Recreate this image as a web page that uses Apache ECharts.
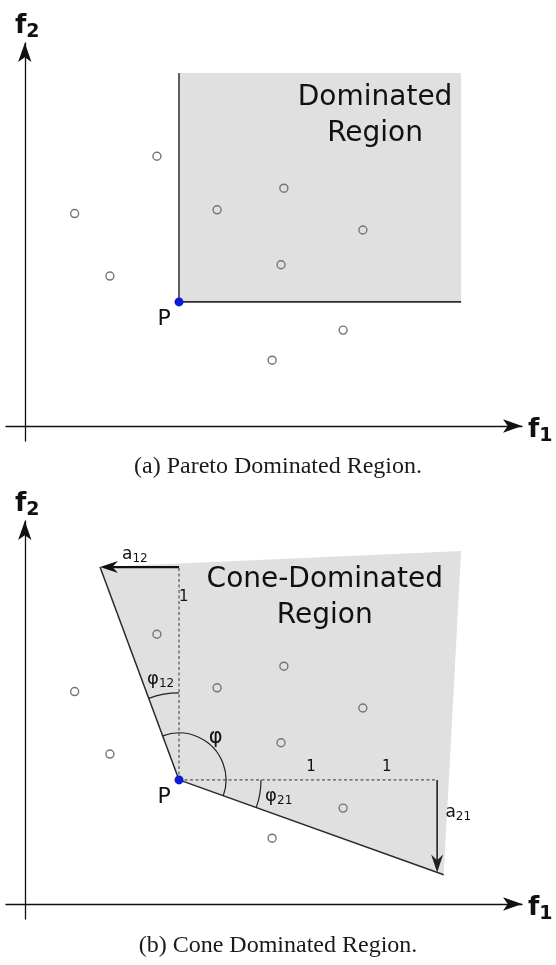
<!DOCTYPE html>
<html>
<head>
<meta charset="utf-8">
<script src="https://cdn.jsdelivr.net/npm/echarts@6/dist/echarts.min.js"></script>
<style>
  html, body { margin: 0; padding: 0; background: #ffffff; }
  #chart { width: 556px; height: 965px; }
</style>
</head>
<body>
<div id="chart"></div>
<script>
// Objective space: f1 horizontal, f2 vertical. Both panels show the same sample set.
const samplePoints = [
  [2.81, 5.74], [1.06, 4.52], [1.81, 3.19], [4.09, 4.60], [5.51, 5.06],
  [7.19, 4.17], [5.45, 3.43], [6.77, 2.04], [5.26, 1.40]
];
const pointP = [3.28, 2.64];
// Pareto box: P is the lower-left corner, this is the opposite one.
const boxCorner = [9.28, 7.51];
// Cone-dominated polygon vertices (P, upper-left, upper-right, lower-right).
const coneVertices = [[3.28, 2.64], [1.60, 7.17], [9.28, 7.51], [8.91, 0.62]];
// Unit steps from P and the trade-off offsets a12 / a21.
const unitUp = [3.28, 7.17];
const unitRight = [8.77, 2.64];
const a12Tip = [1.60, 7.17];
const a21Tip = [8.77, 0.67];

// Text anchors (data coordinates).
const labelDominated = [7.45, 6.61];
const labelCone = [6.38, 6.51];
const labelA12 = [2.34, 7.43];
const labelA21 = [9.22, 1.94];
const labelOneUp = [3.38, 6.53];
const labelOnesRight = [[6.09, 2.91], [7.70, 2.91]];
const labelPhi12 = [2.89, 4.77];
const labelPhi = [4.06, 3.55];
const labelPhi21 = [5.40, 2.30];

const captions = ['(a) Pareto Dominated Region.', '(b) Cone Dominated Region.'];

const SANS = 'DejaVu Sans';
const SERIF = 'Liberation Serif';
const INK = '#111111';

const chart = echarts.init(document.getElementById('chart'), null, { renderer: 'canvas' });

const panelTop = [43, 521];
const grids = panelTop.map(t => ({ left: 6, top: t, width: 516, height: 398 }));

const axisNameRich = {
  f: { fontFamily: SANS, fontWeight: 'bold', fontSize: 26, color: INK, lineHeight: 26, verticalAlign: 'top' },
  s: { fontFamily: SANS, fontWeight: 'bold', fontSize: 19, color: INK, lineHeight: 19, verticalAlign: 'top', padding: [10, 0, 0, 0] }
};

function xAxisFor(i) {
  return {
    gridIndex: i, type: 'value', min: -0.4, max: 10.575,
    axisLine: { show: true, onZero: true, symbol: ['none', 'arrow'], symbolSize: [10, 19],
      lineStyle: { color: INK, width: 1.3 } },
    axisTick: { show: false }, axisLabel: { show: false }, splitLine: { show: false },
    name: '{f|f}{s|1}', nameLocation: 'end', nameGap: 6,
    nameTextStyle: { rich: axisNameRich, padding: [8, 0, 0, 0] }
  };
}
function yAxisFor(i) {
  return {
    gridIndex: i, type: 'value', min: -0.32, max: 8.15,
    axisLine: { show: true, onZero: true, symbol: ['none', 'arrow'], symbolSize: [10, 19],
      lineStyle: { color: INK, width: 1.3 } },
    axisTick: { show: false }, axisLabel: { show: false }, splitLine: { show: false },
    name: '{f|f}{s|2}', nameLocation: 'end', nameGap: 4,
    nameTextStyle: { rich: axisNameRich, padding: [0, 0, 0, 5] }
  };
}

function polygonSeries(i, vertices) {
  return {
    type: 'custom', xAxisIndex: i, yAxisIndex: i, silent: true, z: 1,
    data: [pointP],
    renderItem: (params, api) => ({
      type: 'polygon',
      shape: { points: vertices.map(v => api.coord(v)) },
      style: { fill: '#e0e0e0' }
    })
  };
}

// Straight segments; optional dash and arrowhead at the "to" end.
function segmentSeries(i, segs) {
  return {
    type: 'custom', xAxisIndex: i, yAxisIndex: i, silent: true, z: 3,
    data: segs.map(s => [s.from[0], s.from[1], s.to[0], s.to[1]]),
    encode: { x: [0, 2], y: [1, 3] },
    renderItem: (params, api) => {
      const s = segs[params.dataIndex];
      const a = api.coord([api.value(0), api.value(1)]);
      const b = api.coord([api.value(2), api.value(3)]);
      const children = [];
      let end = b;
      if (s.arrow) {
        const dx = b[0] - a[0], dy = b[1] - a[1];
        const len = Math.hypot(dx, dy);
        const ux = dx / len, uy = dy / len, nx = -uy, ny = ux;
        const L = 18, W = 6;
        const back = [b[0] - ux * L, b[1] - uy * L];
        const notch = [b[0] - ux * L * 0.68, b[1] - uy * L * 0.68];
        end = notch;
        children.push({
          type: 'polygon',
          shape: { points: [b, [back[0] + nx * W, back[1] + ny * W], notch, [back[0] - nx * W, back[1] - ny * W]] },
          style: { fill: s.color }
        });
      }
      children.unshift({
        type: 'line',
        shape: { x1: a[0], y1: a[1], x2: end[0], y2: end[1] },
        style: { stroke: s.color, lineWidth: s.width, lineDash: s.dash || null, fill: null }
      });
      return { type: 'group', children };
    }
  };
}

// Angle arcs centred on P.
function arcSeries(i, arcs) {
  return {
    type: 'custom', xAxisIndex: i, yAxisIndex: i, silent: true, z: 4,
    data: [pointP],
    renderItem: (params, api) => {
      const c = api.coord(pointP);
      const ang = p => { const q = api.coord(p); return Math.atan2(q[1] - c[1], q[0] - c[0]); };
      return {
        type: 'group',
        children: arcs.map(a => ({
          type: 'arc',
          shape: { cx: c[0], cy: c[1], r: a.r, startAngle: ang(a.from), endAngle: ang(a.to), clockwise: true },
          style: { stroke: '#222', lineWidth: 1.2, fill: null }
        }))
      };
    }
  };
}

function samplesSeries(i) {
  return {
    type: 'scatter', xAxisIndex: i, yAxisIndex: i, silent: true, z: 5,
    data: samplePoints, symbol: 'circle', symbolSize: 8,
    itemStyle: { color: 'rgba(0,0,0,0)', borderColor: '#757575', borderWidth: 1.4, opacity: 1 }
  };
}

function pointPSeries(i) {
  return {
    type: 'scatter', xAxisIndex: i, yAxisIndex: i, silent: true, z: 6,
    data: [pointP], symbol: 'circle', symbolSize: 9,
    itemStyle: { color: '#0b1ad6', opacity: 1 },
    label: { show: true, formatter: 'P', position: 'inside', offset: [-15, 17],
      fontFamily: SANS, fontSize: 22, color: INK, textBorderWidth: 0 }
  };
}

const labelRich = {
  m: { fontFamily: SANS, fontSize: 17, color: INK },
  s: { fontFamily: SANS, fontSize: 12, color: INK, padding: [9, 0, 0, 0] },
  pm: { fontFamily: SANS, fontSize: 18, color: INK },
  ps: { fontFamily: SANS, fontSize: 12, color: INK, padding: [9, 0, 0, 0] },
  big: { fontFamily: SANS, fontSize: 28, lineHeight: 36, color: INK, align: 'center' },
  one: { fontFamily: SANS, fontSize: 15, color: INK },
  phi: { fontFamily: SANS, fontSize: 21, color: INK }
};

function textSeries(i, items) {
  return {
    type: 'scatter', xAxisIndex: i, yAxisIndex: i, silent: true, z: 7,
    symbolSize: 0,
    itemStyle: { opacity: 1 },
    data: items.map(t => ({ value: t.at, label: { formatter: t.text } })),
    label: { show: true, position: 'inside', align: 'center', verticalAlign: 'middle',
      color: INK, textBorderWidth: 0, rich: labelRich }
  };
}

const option = {
  animation: false,
  backgroundColor: '#ffffff',
  title: captions.map((c, k) => ({
    text: c, left: 'center', top: [450, 929][k],
    textStyle: { fontFamily: SERIF, fontWeight: 'normal', fontSize: 24, color: '#1a1a1a' }
  })),
  grid: grids,
  xAxis: [xAxisFor(0), xAxisFor(1)],
  yAxis: [yAxisFor(0), yAxisFor(1)],
  series: [
    // Panel (a): Pareto dominated box
    polygonSeries(0, [pointP, [pointP[0], boxCorner[1]], boxCorner, [boxCorner[0], pointP[1]]]),
    segmentSeries(0, [
      { from: pointP, to: [pointP[0], boxCorner[1]], color: '#5e5e5e', width: 2 },
      { from: pointP, to: [boxCorner[0], pointP[1]], color: '#2e2e2e', width: 1.6 }
    ]),
    samplesSeries(0),
    pointPSeries(0),
    textSeries(0, [{ at: labelDominated, text: '{big|Dominated}\n{big|Region}' }]),

    // Panel (b): cone dominated region
    polygonSeries(1, coneVertices),
    segmentSeries(1, [
      { from: pointP, to: unitUp, color: '#555', width: 1.2, dash: [3, 2.5] },
      { from: pointP, to: unitRight, color: '#555', width: 1.2, dash: [3, 2.5] },
      { from: pointP, to: coneVertices[1], color: '#2a2a2a', width: 1.5 },
      { from: pointP, to: coneVertices[3], color: '#2a2a2a', width: 1.5 },
      { from: unitUp, to: a12Tip, color: '#111', width: 2.2, arrow: true },
      { from: unitRight, to: a21Tip, color: '#222', width: 1.6, arrow: true }
    ]),
    arcSeries(1, [
      { from: coneVertices[1], to: unitUp, r: 87 },
      { from: coneVertices[1], to: coneVertices[3], r: 47 },
      { from: unitRight, to: coneVertices[3], r: 82 }
    ]),
    samplesSeries(1),
    pointPSeries(1),
    textSeries(1, [
      { at: labelCone, text: '{big|Cone-Dominated}\n{big|Region}' },
      { at: labelA12, text: '{m|a}{s|12}' },
      { at: labelA21, text: '{m|a}{s|21}' },
      { at: labelOneUp, text: '{one|1}' },
      { at: labelOnesRight[0], text: '{one|1}' },
      { at: labelOnesRight[1], text: '{one|1}' },
      { at: labelPhi12, text: '{pm|φ}{ps|12}' },
      { at: labelPhi, text: '{phi|φ}' },
      { at: labelPhi21, text: '{pm|φ}{ps|21}' }
    ])
  ]
};

chart.setOption(option);
</script>
</body>
</html>
